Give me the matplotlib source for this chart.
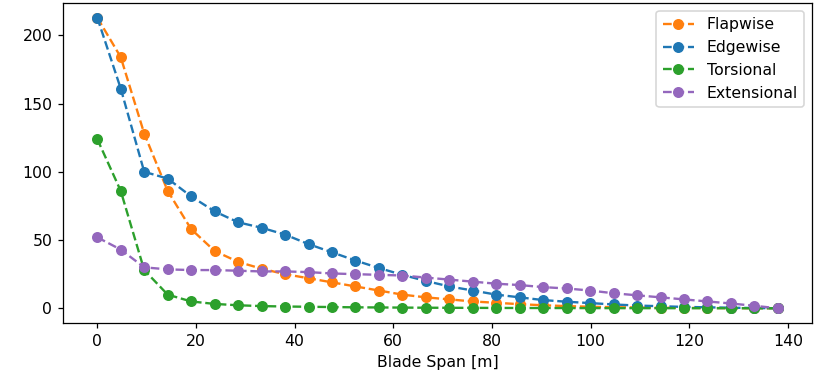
import numpy as np
import matplotlib.pyplot as plt

# posiciones a lo largo del alabe (m)
span = [0.0, 4.76, 9.52, 14.28, 19.03, 23.79, 28.55, 33.31, 38.07, 42.83,
        47.59, 52.34, 57.10, 61.86, 66.62, 71.38, 76.14, 80.90, 85.66, 90.41,
        95.17, 99.93, 104.69, 109.45, 114.21, 118.97, 123.72, 128.48, 133.24, 138.0]

flapwise = [213, 184, 128, 86, 58, 42, 34, 29, 25, 22, 19, 16, 13, 10, 8,
            6.5, 5, 4, 3, 2.2, 1.6, 1.1, 0.8, 0.6, 0.4, 0.3, 0.2, 0.1, 0.05, 0]
edgewise = [213, 161, 100, 95, 82, 71, 63, 59, 54, 47, 41, 35, 29.5, 24.5, 20,
            16, 13, 10, 8, 6, 4.8, 3.8, 2.8, 2, 1.5, 1, 0.7, 0.4, 0.2, 0]
torsional = [124, 86, 28, 10, 5, 3.2, 2.2, 1.6, 1.3, 1.1, 0.9, 0.7, 0.6, 0.5, 0.4,
             0.35, 0.3, 0.25, 0.2, 0.18, 0.15, 0.12, 0.1, 0.08, 0.06, 0.05, 0.04, 0.03, 0.02, 0]
extensional = [52, 43, 30, 28.5, 28, 28, 27.5, 27, 27, 26.5, 25.5, 25, 24.5, 24, 22.5,
               21, 19.5, 18, 17, 15.5, 14.5, 13, 11, 9.5, 8, 6.5, 5, 3.5, 1.8, 0]

dpi = 113
fig, ax = plt.subplots(figsize=(821 / dpi, 378 / dpi), dpi=dpi)
ax.plot(span, flapwise, 'o--', color='tab:orange', label='Flapwise')
ax.plot(span, edgewise, 'o--', color='tab:blue', label='Edgewise')
ax.plot(span, torsional, 'o--', color='tab:green', label='Torsional')
ax.plot(span, extensional, 'o--', color='tab:purple', label='Extensional')
ax.set_xlabel('Blade Span [m]')
ax.legend(loc='upper right')
plt.subplots_adjust(left=0.077, right=0.989, top=0.992, bottom=0.146)
plt.savefig('out.png', dpi=dpi)
